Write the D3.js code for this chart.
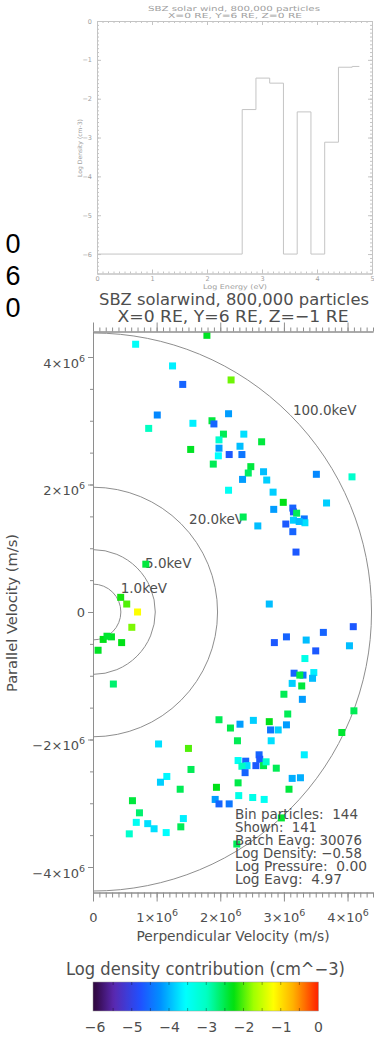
<!DOCTYPE html>
<html><head><meta charset="utf-8">
<script src="https://cdn.jsdelivr.net/npm/d3@7"></script>
<style>body{margin:0;background:#fff}svg{display:block}</style>
</head><body>
<svg id="c" width="374" height="1038"></svg>
<script>
// ---------------- DATA ----------------
const sideText = ["0", "6", "0"];
// Energy histogram (log10 eV bin edges) and log density per bin
const histEdges = [0, 2.64, 2.89, 3.14, 3.39, 3.64, 3.89, 4.14, 4.39, 4.64, 4.77];
const histLogDensity = [-6, -2.28, -1.47, -1.6, -6, -2.34, -6, -3.12, -1.19, -1.17];
const histXTicks = [0, 1, 2, 3, 4, 5];
const histYTicks = [0, -1, -2, -3, -4, -5, -6];

// Velocity-space particles (units of 1e6 m/s) and log density contribution
const vPerp = [
  0.67, 1.79, 1.25, 1.41, 2.17, 1.01, 0.875, 1.57, 1.87, 1.90,
  2.13, 2.05, 1.98, 2.37, 2.65, 1.535, 1.98, 2.31, 2.14, 2.34,
  1.97, 1.89, 2.48, 2.44, 2.35, 2.68, 2.73, 2.13, 2.83, 2.99,
  2.84, 3.14, 3.15, 3.20, 3.15, 3.03, 3.32, 3.33, 3.24, 3.14,
  3.19, 3.51, 3.67, 4.07, 2.36, 2.59, 0.83, 0.435, 0.53, 0.70,
  0.61, 2.77, 4.09, 3.62, 3.35, 3.04, 2.85, 0.16, 0.29, 0.22,
  0.45, 0.08, 0.32, 4.03, 3.50, 3.33, 3.16, 3.30, 3.47, 3.45,
  3.25, 3.13, 3.28, 3.00, 3.29, 4.10, 3.06, 1.98, 2.16, 2.31,
  2.52, 2.77, 2.79, 2.91, 3.04, 2.80, 2.27, 3.91, 3.32, 2.61,
  2.62, 2.56, 2.40, 2.28, 2.42, 2.34, 2.39, 2.68, 2.72, 2.88,
  3.13, 3.26, 2.28, 1.94, 3.08, 2.29, 1.92, 1.98, 2.14, 2.51,
  2.69, 1.03, 1.50, 1.54, 1.16, 1.06, 1.37, 0.62, 0.73, 0.68,
  0.86, 0.57, 0.96, 1.15, 1.38, 1.42, 2.26, 2.96];
const vPar = [
  4.20, 4.34, 3.86, 3.57, 3.64, 3.09, 2.88, 2.96, 3.00, 2.95,
  3.11, 2.79, 2.70, 2.79, 2.67, 2.55, 2.57, 2.60, 2.47, 2.47,
  2.45, 2.32, 2.28, 2.18, 2.08, 2.20, 2.07, 1.91, 1.88, 1.72,
  1.61, 1.63, 1.57, 1.55, 1.44, 1.38, 1.46, 1.40, 1.42, 1.26,
  0.94, 2.16, 1.71, 2.12, 1.49, 1.35, 0.75, 0.23, 0.125, 0.0,
  -0.24, 0.125, -0.23, -0.32, -0.44, -0.39, -0.48, -0.43, -0.39, -0.38,
  -0.48, -0.60, -1.13, -0.53, -0.61, -0.73, -0.96, -0.99, -0.95, -1.04,
  -0.99, -1.12, -1.16, -1.29, -1.37, -1.55, -1.60, -1.69, -1.82, -1.76,
  -1.70, -1.72, -1.85, -1.85, -1.77, -2.02, -2.02, -1.89, -2.24, -2.24,
  -2.31, -2.41, -2.34, -2.33, -2.41, -2.42, -2.52, -2.41, -2.35, -2.45,
  -2.61, -2.60, -2.68, -2.75, -2.78, -2.88, -2.94, -3.01, -3.01, -2.91,
  -2.94, -2.07, -2.14, -2.47, -2.58, -2.67, -2.78, -2.96, -3.15, -3.30,
  -3.32, -3.48, -3.40, -3.46, -3.37, -3.24, -3.64, -3.23];
const logContribution = [
  -3.5, -2.35, -3.65, -4.6, -1.9, -4.3, -3.0, -3.65, -2.45, -4.6,
  -4.15, -2.55, -3.1, -3.75, -2.45, -2.35, -4.15, -3.95, -4.7, -4.45,
  -3.55, -2.55, -2.45, -2.6, -4.15, -3.95, -3.85, -3.45, -3.85, -2.3,
  -4.15, -4.6, -4.75, -2.55, -3.85, -4.7, -4.45, -3.75, -3.95, -4.6,
  -4.7, -4.3, -3.85, -3.1, -2.55, -3.95, -2.45, -2.2, -2.0, -1.21,
  -1.85, -3.95, -4.7, -4.6, -3.95, -4.6, -4.7, -2.3, -2.35, -2.4,
  -2.3, -2.35, -2.65, -3.95, -4.7, -3.35, -4.6, -4.45, -3.65, -3.95,
  -2.5, -3.85, -2.45, -2.55, -4.15, -2.55, -2.55, -2.55, -2.5, -4.15,
  -3.85, -2.3, -4.45, -3.85, -4.15, -3.75, -2.55, -2.4, -3.65, -4.6,
  -4.7, -4.7, -4.6, -3.45, -3.75, -3.0, -4.6, -2.5, -3.1, -2.55,
  -4.05, -4.05, -2.5, -2.3, -2.45, -3.35, -4.15, -4.6, -4.45, -3.35,
  -3.45, -3.75, -2.0, -2.55, -3.6, -3.85, -2.55, -2.45, -2.65, -3.45,
  -3.75, -3.1, -3.75, -3.55, -2.55, -3.65, -2.55, -2.4];

const energyRingsKeV = [1, 5, 20, 100];
const ringLabels = ["1.0keV", "5.0keV", "20.0keV", "100.0keV"];
const velXTicks = [0, 1, 2, 3, 4];
const velYTicks = [-4, -2, 0, 2, 4];
const colorTicks = [-6, -5, -4, -3, -2, -1, 0];
const colorStopValues = [-6.0, -5.48, -4.77, -4.23, -3.56, -2.98, -2.27, -1.73, -1.20, -0.66, 0.0];
const colorStopColors = ["#300840", "#5a28b0", "#2050ff", "#0090ff", "#00ffff", "#00ffc0", "#00e010", "#a0ff00", "#ffff00", "#ffb000", "#ff2000"];
const infoLines = ["Bin particles:  144", "Shown:  141", "Batch Eavg: 30076",
                   "Log Density: \u22120.58", "Log Pressure:  0.00", "Log Eavg:  4.97"];

// ---------------- DRAWING ----------------
const FONT = "'DejaVu Sans', sans-serif";
const svg = d3.select("#c");

// stray large characters at left edge
svg.append("g").selectAll("text").data(sideText).join("text")
  .attr("x", 13).attr("y", (d, i) => 253 + i * 32)
  .attr("text-anchor", "middle").attr("font-family", "'Liberation Sans', Arial, sans-serif")
  .attr("font-size", 27).attr("fill", "#000").text(d => d);

// ===== Top histogram =====
const hLine = "#c4c4c4", hText = "#a0a0a0";
const xH = d3.scaleLinear().domain([0, 5]).range([97, 372]);
const yH = d3.scaleLinear().domain([0, -6.5]).range([21, 273.5]);
const gH = svg.append("g");

function styleAx(g, col, tcol, fs) {
  g.attr("font-family", FONT).attr("font-size", fs);
  g.select(".domain").attr("stroke", col).attr("stroke-width", 1);
  g.selectAll(".tick line").attr("stroke", col).attr("stroke-width", 1);
  g.selectAll(".tick text").attr("fill", tcol);
}
const xMinorH = d3.range(0, 51).map(d => d / 10);
const yMinorH = d3.range(-65, 1).map(d => d / 10);

styleAx(gH.append("g").attr("transform", "translate(0,273.5)")
  .call(d3.axisBottom(xH).tickValues(xMinorH).tickSize(-2).tickSizeOuter(0).tickFormat("")), hLine, hText, 6.5);
styleAx(gH.append("g").attr("transform", "translate(0,273.5)")
  .call(d3.axisBottom(xH).tickValues(histXTicks).tickSize(-4).tickSizeOuter(0).tickPadding(3).tickFormat(d3.format("d"))), hLine, hText, 6.5);
styleAx(gH.append("g").attr("transform", "translate(0,21)")
  .call(d3.axisTop(xH).tickValues(xMinorH).tickSize(-2).tickSizeOuter(0).tickFormat("")), hLine, hText, 6.5);
styleAx(gH.append("g").attr("transform", "translate(0,21)")
  .call(d3.axisTop(xH).tickValues(histXTicks).tickSize(-4).tickSizeOuter(0).tickFormat("")), hLine, hText, 6.5);
styleAx(gH.append("g").attr("transform", "translate(97,0)")
  .call(d3.axisLeft(yH).tickValues(yMinorH).tickSize(-2).tickSizeOuter(0).tickFormat("")), hLine, hText, 6.5);
styleAx(gH.append("g").attr("transform", "translate(97,0)")
  .call(d3.axisLeft(yH).tickValues(histYTicks).tickSize(-4).tickSizeOuter(0).tickPadding(5).tickFormat(d3.format("d"))), hLine, hText, 6.5);
styleAx(gH.append("g").attr("transform", "translate(372,0)")
  .call(d3.axisRight(yH).tickValues(yMinorH).tickSize(-2).tickSizeOuter(0).tickFormat("")), hLine, hText, 6.5);
styleAx(gH.append("g").attr("transform", "translate(372,0)")
  .call(d3.axisRight(yH).tickValues(histYTicks).tickSize(-4).tickSizeOuter(0).tickFormat("")), hLine, hText, 6.5);

const stepPts = histLogDensity.map((v, i) => [histEdges[i], v]);
stepPts.push([histEdges[histEdges.length - 1], histLogDensity[histLogDensity.length - 1]]);
gH.append("path").attr("d", d3.line().x(d => xH(d[0])).y(d => yH(d[1])).curve(d3.curveStepAfter)(stepPts))
  .attr("fill", "none").attr("stroke", hLine).attr("stroke-width", 1);

gH.append("text").attr("x", 234).attr("y", 11).attr("text-anchor", "middle")
  .attr("font-family", FONT).attr("font-size", 7).attr("fill", hText)
  .attr("textLength", 172).attr("lengthAdjust", "spacingAndGlyphs").text("SBZ solar wind, 800,000 particles");
gH.append("text").attr("x", 235).attr("y", 17.5).attr("text-anchor", "middle")
  .attr("font-family", FONT).attr("font-size", 7).attr("fill", hText)
  .attr("textLength", 134).attr("lengthAdjust", "spacingAndGlyphs").text("X=0 RE, Y=6 RE, Z=0 RE");
gH.append("text").attr("x", 235).attr("y", 288.5).attr("text-anchor", "middle")
  .attr("font-family", FONT).attr("font-size", 6.5).attr("fill", hText)
  .attr("textLength", 64).attr("lengthAdjust", "spacingAndGlyphs").text("Log Energy (eV)");
gH.append("text").attr("transform", "translate(82,148) rotate(-90)").attr("text-anchor", "middle")
  .attr("font-family", FONT).attr("font-size", 6).attr("fill", hText)
  .attr("textLength", 58).attr("lengthAdjust", "spacingAndGlyphs").text("Log Density (cm-3)");

// ===== Velocity-space plot =====
const vLine = "#8e8e8e", vText = "#4e4e4e";
const xV = d3.scaleLinear().domain([0, 4.4]).range([93, 373]);
const yV = d3.scaleLinear().domain([-4.4, 4.4]).range([892.5, 331.5]);
const colorScale = d3.scaleLinear().domain(colorStopValues).range(colorStopColors)
  .interpolate(d3.interpolateRgb).clamp(true);
const gV = svg.append("g");
const defs = svg.append("defs");
defs.append("clipPath").attr("id", "plotclip").append("rect")
  .attr("x", 93).attr("y", 331.5).attr("width", 281).attr("height", 561);

// title
gV.append("text").attr("x", 234).attr("y", 305).attr("text-anchor", "middle")
  .attr("font-family", FONT).attr("font-size", 16.5).attr("fill", vText)
  .attr("textLength", 270).attr("lengthAdjust", "spacingAndGlyphs").text("SBZ solarwind, 800,000 particles");
gV.append("text").attr("x", 233).attr("y", 322).attr("text-anchor", "middle")
  .attr("font-family", FONT).attr("font-size", 16.5).attr("fill", vText)
  .attr("textLength", 231).attr("lengthAdjust", "spacingAndGlyphs").text("X=0 RE, Y=6 RE, Z=\u22121 RE");

// energy rings (proton speed for each energy)
const mp = 1.6726e-27, qe = 1.602e-19;
const ringV = energyRingsKeV.map(e => Math.sqrt(2 * e * 1e3 * qe / mp) / 1e6);
const rings = gV.append("g").attr("clip-path", "url(#plotclip)");
rings.selectAll("ellipse").data(ringV).join("ellipse")
  .attr("cx", xV(0)).attr("cy", yV(0))
  .attr("rx", v => xV(v) - xV(0)).attr("ry", v => yV(0) - yV(v))
  .attr("fill", "none").attr("stroke", vLine).attr("stroke-width", 1);
gV.append("g").selectAll("text").data(ringV).join("text")
  .attr("x", (v, i) => xV(v * Math.SQRT1_2) + (i === 3 ? 3 : 8)).attr("y", v => yV(v * Math.SQRT1_2) + 0.5)
  .attr("font-family", FONT).attr("font-size", 13.5).attr("fill", vText)
  .text((v, i) => ringLabels[i]);

// points
const pts = vPerp.map((p, i) => ({ p, q: vPar[i], c: logContribution[i] }));
gV.append("g").selectAll("rect").data(pts).join("rect")
  .attr("x", d => xV(d.p) - 3.5).attr("y", d => yV(d.q) - 3.5)
  .attr("width", 7).attr("height", 7)
  .attr("fill", d => colorScale(d.c));

// axes
function sci(textSel, sz) {
  textSel.each(function (d) {
    const t = d3.select(this);
    t.text(null);
    if (d === 0) { t.text("0"); return; }
    t.append("tspan").text((d < 0 ? "\u2212" : "") + Math.abs(d) + "\u00d710");
    t.append("tspan").attr("dy", -6).attr("font-size", sz).text("6");
  });
}
const xMinorV = d3.range(0, 45).map(d => d / 10);
const yMinorV = d3.range(-8, 9).map(d => d / 2);

styleAx(gV.append("g").attr("transform", "translate(0,892.5)")
  .call(d3.axisBottom(xV).tickValues(xMinorV).tickSize(5).tickSizeOuter(0).tickFormat("")), vLine, vText, 13);
const xb = gV.append("g").attr("transform", "translate(0,892.5)")
  .call(d3.axisBottom(xV).tickValues(velXTicks).tickSize(9).tickSizeOuter(0).tickPadding(11));
styleAx(xb, vLine, vText, 13);
sci(xb.selectAll(".tick text"), 9.5);

styleAx(gV.append("g").attr("transform", "translate(0,331.5)")
  .call(d3.axisTop(xV).tickValues(xMinorV).tickSize(4).tickSizeOuter(0).tickFormat("")), vLine, vText, 13);
styleAx(gV.append("g").attr("transform", "translate(0,331.5)")
  .call(d3.axisTop(xV).tickValues(velXTicks).tickSize(9).tickSizeOuter(0).tickFormat("")), vLine, vText, 13);

styleAx(gV.append("g").attr("transform", "translate(93,0)")
  .call(d3.axisLeft(yV).tickValues(yMinorV).tickSize(3).tickSizeOuter(0).tickFormat("")), vLine, vText, 13);
const yl = gV.append("g").attr("transform", "translate(93,0)")
  .call(d3.axisLeft(yV).tickValues(velYTicks).tickSize(5).tickSizeOuter(0).tickPadding(3));
styleAx(yl, vLine, vText, 13);
yl.selectAll(".tick text").attr("dy", d => d === 0 ? "0.35em" : "0.8em");
sci(yl.selectAll(".tick text"), 9.5);

gV.append("text").attr("x", 233).attr("y", 941).attr("text-anchor", "middle")
  .attr("font-family", FONT).attr("font-size", 14).attr("fill", vText)
  .attr("textLength", 193).attr("lengthAdjust", "spacingAndGlyphs").text("Perpendicular Velocity (m/s)");
gV.append("text").attr("transform", "translate(17,613) rotate(-90)").attr("text-anchor", "middle")
  .attr("font-family", FONT).attr("font-size", 14).attr("fill", vText)
  .attr("textLength", 158).attr("lengthAdjust", "spacingAndGlyphs").text("Parallel Velocity (m/s)");

// info block
const infoLen = [123, 82, 127, 127, 132, 107];
gV.append("g").selectAll("text").data(infoLines).join("text")
  .attr("x", 235).attr("y", (d, i) => 819 + i * 13)
  .attr("font-family", FONT).attr("font-size", 13.5).attr("fill", vText)
  .attr("xml:space", "preserve").style("white-space", "pre")
  .attr("textLength", (d, i) => infoLen[i]).attr("lengthAdjust", "spacingAndGlyphs")
  .text(d => d);

// ===== Colorbar =====
const cb = d3.scaleLinear().domain([-6, 0]).range([94.5, 318]);
const cbX0 = 93, cbX1 = 318.5, cbY = 982, cbH = 29;
const grad = defs.append("linearGradient").attr("id", "cbg").attr("x1", "0%").attr("x2", "100%");
d3.range(0, 81).forEach(i => {
  const t = i / 80;
  grad.append("stop").attr("offset", (t * 100) + "%")
    .attr("stop-color", colorScale(cb.invert(cbX0 + t * (cbX1 - cbX0))));
});
svg.append("rect").attr("x", cbX0).attr("y", cbY).attr("width", cbX1 - cbX0).attr("height", cbH)
  .attr("fill", "url(#cbg)").attr("stroke", "#999").attr("stroke-width", 0.5);
const cbMinor = d3.range(-11, 0).map(d => d / 2);
const cbt = svg.append("g");
cbt.selectAll("line.t").data(cbMinor).join("line")
  .attr("x1", d => cb(d)).attr("x2", d => cb(d)).attr("y1", cbY).attr("y2", cbY + 3)
  .attr("stroke", "rgba(0,0,0,0.35)");
cbt.selectAll("line.b").data(cbMinor).join("line")
  .attr("x1", d => cb(d)).attr("x2", d => cb(d)).attr("y1", cbY + cbH - 3).attr("y2", cbY + cbH)
  .attr("stroke", "rgba(0,0,0,0.35)");
const cba = svg.append("g").attr("transform", "translate(0," + (cbY + cbH) + ")")
  .call(d3.axisBottom(cb).tickValues(colorTicks).tickSize(0).tickPadding(11).tickFormat(d3.format("d")));
cba.select(".domain").remove();
cba.attr("font-family", FONT).attr("font-size", 14);
cba.selectAll(".tick text").attr("fill", vText);

svg.append("text").attr("x", 205.5).attr("y", 975).attr("text-anchor", "middle")
  .attr("font-family", FONT).attr("font-size", 17).attr("fill", vText)
  .attr("textLength", 279).attr("lengthAdjust", "spacingAndGlyphs").text("Log density contribution (cm^\u22123)");
</script>
</body></html>
